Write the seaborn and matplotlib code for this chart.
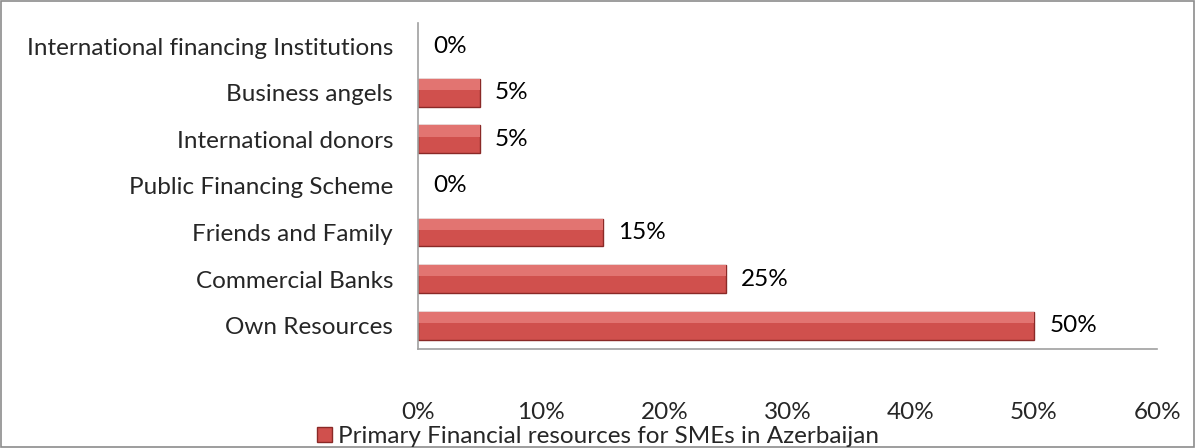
import matplotlib
matplotlib.use('Agg')
import matplotlib.pyplot as plt
import seaborn as sns
import pandas as pd
from matplotlib.patches import Rectangle

categories = ['International financing Institutions', 'Business angels', 'International donors',
              'Public Financing Scheme', 'Friends and Family', 'Commercial Banks', 'Own Resources']
shares = [0.00, 0.05, 0.05, 0.00, 0.15, 0.25, 0.50]
x_ticks = [0.0, 0.1, 0.2, 0.3, 0.4, 0.5, 0.6]
series_name = 'Primary Financial resources for SMEs in Azerbaijan'

df = pd.DataFrame({'source': categories, 'share': shares})

sns.set_theme(style='white')
plt.rcParams['font.family'] = ['Lato', 'DejaVu Sans']
fs = 17.5

fig = plt.figure(figsize=(11.96, 4.48), dpi=100)
ax = fig.add_axes([0.3495, 0.221, 0.618, 0.728])

sns.barplot(data=df, y='source', x='share', orient='h', color='#D0504D',
            edgecolor='#8A2927', linewidth=1.0, width=0.6, saturation=1, ax=ax)

# lighter strip on top of each bar, a rough stand-in for the bevel
for p in list(ax.patches):
    if p.get_width() > 0:
        ax.add_patch(Rectangle((p.get_x(), p.get_y()), p.get_width(), p.get_height() * 0.4,
                               color='#E27471', lw=0, zorder=p.get_zorder() + 0.1))
    else:
        p.set_linewidth(0)
    ax.annotate(f'{p.get_width():.0%}', (p.get_width(), p.get_y() + p.get_height() / 2),
                xytext=(11, 0), textcoords='offset points', ha='left', va='center',
                fontsize=fs, color='black')

ax.set_xlim(0, 0.6)
ax.set_xticks(x_ticks)
ax.set_xticklabels([f'{t:.0%}' for t in x_ticks])
ax.set_xlabel('')
ax.set_ylabel('')
ax.tick_params(axis='x', length=0, pad=38, labelsize=fs)
ax.tick_params(axis='y', length=0, pad=18, labelsize=fs)
for s in ['top', 'right']:
    ax.spines[s].set_visible(False)
for s in ['left', 'bottom']:
    ax.spines[s].set_color('#A0A0A0')
    ax.spines[s].set_linewidth(1.2)

handle = Rectangle((0, 0), 1, 1, facecolor='#D0504D', edgecolor='#8A2927')
fig.legend([handle], [series_name], loc='center', bbox_to_anchor=(0.50, 0.025),
           frameon=False, fontsize=fs, handlelength=0.6, handleheight=0.6, handletextpad=0.25,
           borderpad=0)

fig.add_artist(Rectangle((0.001, 0.002), 0.997, 0.995, transform=fig.transFigure,
                         fill=False, edgecolor='#8C8C8C', linewidth=1.2))

fig.savefig('out.png', dpi=100)
